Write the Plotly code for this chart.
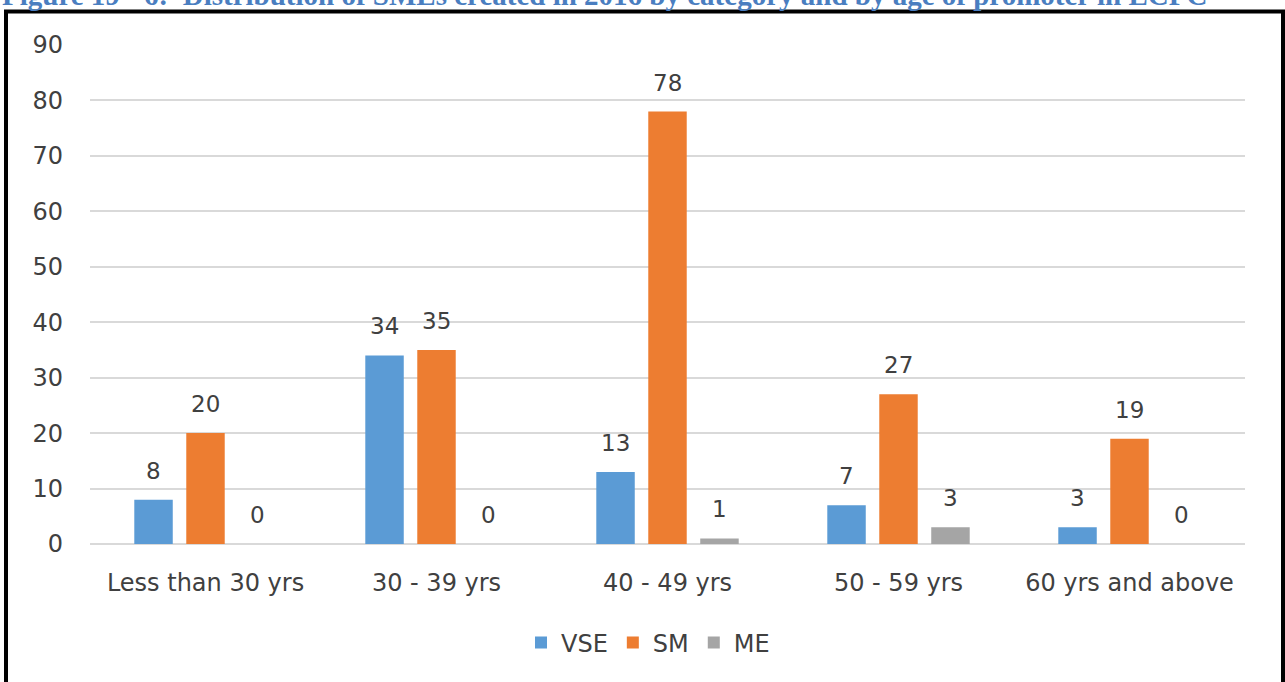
import plotly.graph_objects as go

categories = ["Less than 30 yrs", "30 - 39 yrs", "40 - 49 yrs", "50 - 59 yrs", "60 yrs and above"]
vse = [8, 34, 13, 7, 3]
sm = [20, 35, 78, 27, 19]
me = [0, 0, 1, 3, 0]
series_names = ["VSE", "SM", "ME"]
series_values = [vse, sm, me]
series_colors = ["#5B9BD5", "#ED7D31", "#A5A5A5"]
title_text = "Figure 19 - 6:  Distribution of SMEs created in 2016 by category and by age of promoter in ECPC"

FONT = "DejaVu Sans"
FS = 24
W, H = 1285, 682
ml, mr, mt, mb = 90, 40, 45, 138
plot_w = W - ml - mr
plot_h = H - mt - mb

fig = go.Figure()
for name, vals, col in zip(series_names, series_values, series_colors):
    fig.add_trace(go.Bar(
        name=name, x=categories, y=vals,
        marker=dict(color=col, line=dict(width=0)),
    ))

# data labels above bars
shifts = [-52, 0, 52]
for vals, xs in zip(series_values, shifts):
    for c, v in zip(categories, vals):
        fig.add_annotation(
            x=c, y=v, xref="x", yref="y", text=str(v), showarrow=False,
            xshift=xs, yshift=14, yanchor="bottom",
            font=dict(family=FONT, size=FS - 1, color="#404040"),
        )

# figure caption at top (partly cut off, as in the source)
fig.add_annotation(
    text="<b>" + title_text + "</b>", xref="paper", yref="paper",
    x=(0 - ml) / plot_w, y=(H - mb - 13) / plot_h, xanchor="left", yanchor="bottom",
    showarrow=False, font=dict(family="Liberation Serif", size=29, color="#4A7EC0"),
)

# frame border
fig.add_shape(
    type="rect", xref="paper", yref="paper",
    x0=(6 - ml) / plot_w, x1=(1283 - ml) / plot_w,
    y0=-0.6, y1=(H - mb - 11.5) / plot_h,
    line=dict(color="black", width=4), fillcolor="rgba(0,0,0,0)", layer="above",
)

fig.update_layout(
    width=W, height=H,
    margin=dict(l=ml, r=mr, t=mt, b=mb),
    paper_bgcolor="white", plot_bgcolor="white",
    barmode="group", bargap=0.325, bargroupgap=0.26,
    font=dict(family=FONT, size=FS, color="#404040"),
    showlegend=True,
    legend=dict(
        orientation="h", xanchor="center", x=(648 - ml) / plot_w,
        yanchor="middle", y=(H - mb - 643) / plot_h,
        font=dict(family=FONT, size=FS, color="#404040"),
        itemwidth=30, traceorder="normal",
    ),
    xaxis=dict(
        showgrid=False, showline=False, zeroline=False, ticks="",
        ticklabelstandoff=22, tickfont=dict(family=FONT, size=FS, color="#404040"),
    ),
    yaxis=dict(
        range=[0, 90], dtick=10, showgrid=True, gridcolor="#D9D9D9", gridwidth=1.5,
        zeroline=True, zerolinecolor="#D9D9D9", zerolinewidth=1.5, showline=False,
        ticks="", ticklabelstandoff=26, tickfont=dict(family=FONT, size=FS, color="#404040"),
    ),
)

fig.write_html(
    "out.html",
    config={"displayModeBar": False},
    post_script="document.body.style.margin='0';document.body.style.overflow='hidden';",
)
